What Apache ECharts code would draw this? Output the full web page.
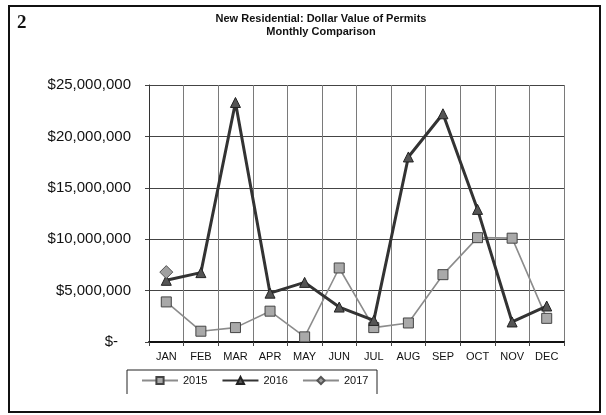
<!DOCTYPE html>
<html>
<head>
<meta charset="utf-8">
<script src="https://cdn.jsdelivr.net/npm/echarts@6/dist/echarts.min.js"></script>
<style>
  html, body { margin: 0; padding: 0; background: #fff; }
  #chart { width: 606px; height: 415px; }
</style>
</head>
<body>
<div id="chart"></div>
<script>
// Months on the category axis
var months = ['JAN', 'FEB', 'MAR', 'APR', 'MAY', 'JUN', 'JUL', 'AUG', 'SEP', 'OCT', 'NOV', 'DEC'];

// Dollar value of new residential permits per month
var permits2015 = [3900000, 1050000, 1400000, 3000000, 500000, 7200000, 1400000, 1850000, 6550000, 10150000, 10100000, 2300000];
var permits2016 = [6000000, 6750000, 23300000, 4750000, 5800000, 3400000, 2100000, 18000000, 22200000, 12900000, 1950000, 3500000];
var permits2017 = [6800000, null, null, null, null, null, null, null, null, null, null, null];

// Value axis ticks
var yTicks = [0, 5000000, 10000000, 15000000, 20000000, 25000000];

var FONT = 'Liberation Sans, Arial, sans-serif';

function dollarLabel(v) {
  if (v === 0) return '{z|$-}';
  return '$' + v.toLocaleString('en-US');
}

var chart = echarts.init(document.getElementById('chart'), null, { renderer: 'canvas' });

chart.setOption({
  backgroundColor: '#ffffff',
  animation: false,
  title: {
    text: 'New Residential: Dollar Value of Permits\nMonthly Comparison',
    left: 316,
    top: 7,
    textAlign: 'center',
    textStyle: {
      fontFamily: FONT,
      fontSize: 11,
      fontWeight: 'bold',
      color: '#111',
      lineHeight: 13
    }
  },
  graphic: [
    {
      type: 'rect',
      shape: { x: 9, y: 6, width: 591, height: 406 },
      style: { fill: 'none', stroke: '#111', lineWidth: 2 },
      z: 100
    },
    {
      type: 'text',
      left: 17,
      top: 14,
      style: {
        text: '2',
        font: 'bold 19px "Liberation Serif", "DejaVu Serif", serif',
        fill: '#111'
      }
    },
    {
      type: 'polyline',
      shape: { points: [[127, 394], [127, 370], [377, 370], [377, 394]] },
      style: { fill: 'none', stroke: '#222', lineWidth: 1 }
    }
  ],
  legend: {
    left: 141,
    top: 375,
    itemWidth: 36,
    itemHeight: 9,
    itemGap: 14,
    padding: 0,
    textStyle: { fontFamily: FONT, fontSize: 11, color: '#111' },
    data: ['2015', '2016', '2017']
  },
  grid: {
    left: 149,
    right: 42,
    top: 85,
    bottom: 73,
    containLabel: false
  },
  xAxis: {
    type: 'category',
    data: months,
    boundaryGap: true,
    axisLine: { show: true, lineStyle: { color: '#111', width: 2 } },
    axisTick: { show: true, length: 4, lineStyle: { color: '#444' } },
    axisLabel: {
      fontFamily: FONT,
      fontSize: 11,
      color: '#111',
      margin: 9,
      interval: 0
    },
    splitLine: {
      show: true,
      interval: 0,
      lineStyle: { color: '#7a7a7a', width: 1 }
    }
  },
  yAxis: {
    type: 'value',
    min: 0,
    max: 25000000,
    interval: 5000000,
    axisLine: { show: true, lineStyle: { color: '#333', width: 1 } },
    axisTick: { show: true, length: 4, lineStyle: { color: '#444' } },
    axisLabel: {
      fontFamily: FONT,
      fontSize: 15,
      color: '#111',
      margin: 18,
      formatter: dollarLabel,
      rich: {
        z: { fontFamily: FONT, fontSize: 15, color: '#111', padding: [0, 13, 0, 0] }
      }
    },
    splitLine: {
      show: true,
      lineStyle: { color: '#444', width: 1 }
    }
  },
  series: [
    {
      name: '2015',
      type: 'line',
      data: permits2015,
      symbol: 'rect',
      symbolSize: 10,
      lineStyle: { color: '#8c8c8c', width: 1.6 },
      itemStyle: { color: '#a9a9a9', borderColor: '#444', borderWidth: 1 },
      z: 3
    },
    {
      name: '2016',
      type: 'line',
      data: permits2016,
      symbol: 'triangle',
      symbolSize: 10,
      lineStyle: { color: '#333', width: 3 },
      itemStyle: { color: '#555', borderColor: '#222', borderWidth: 1 },
      z: 4
    },
    {
      name: '2017',
      type: 'line',
      data: permits2017,
      symbol: 'diamond',
      symbolSize: 13,
      lineStyle: { color: '#8a8a8a', width: 3 },
      itemStyle: { color: '#a0a0a0', borderColor: '#555', borderWidth: 1 },
      z: 5
    }
  ]
});
</script>
</body>
</html>
